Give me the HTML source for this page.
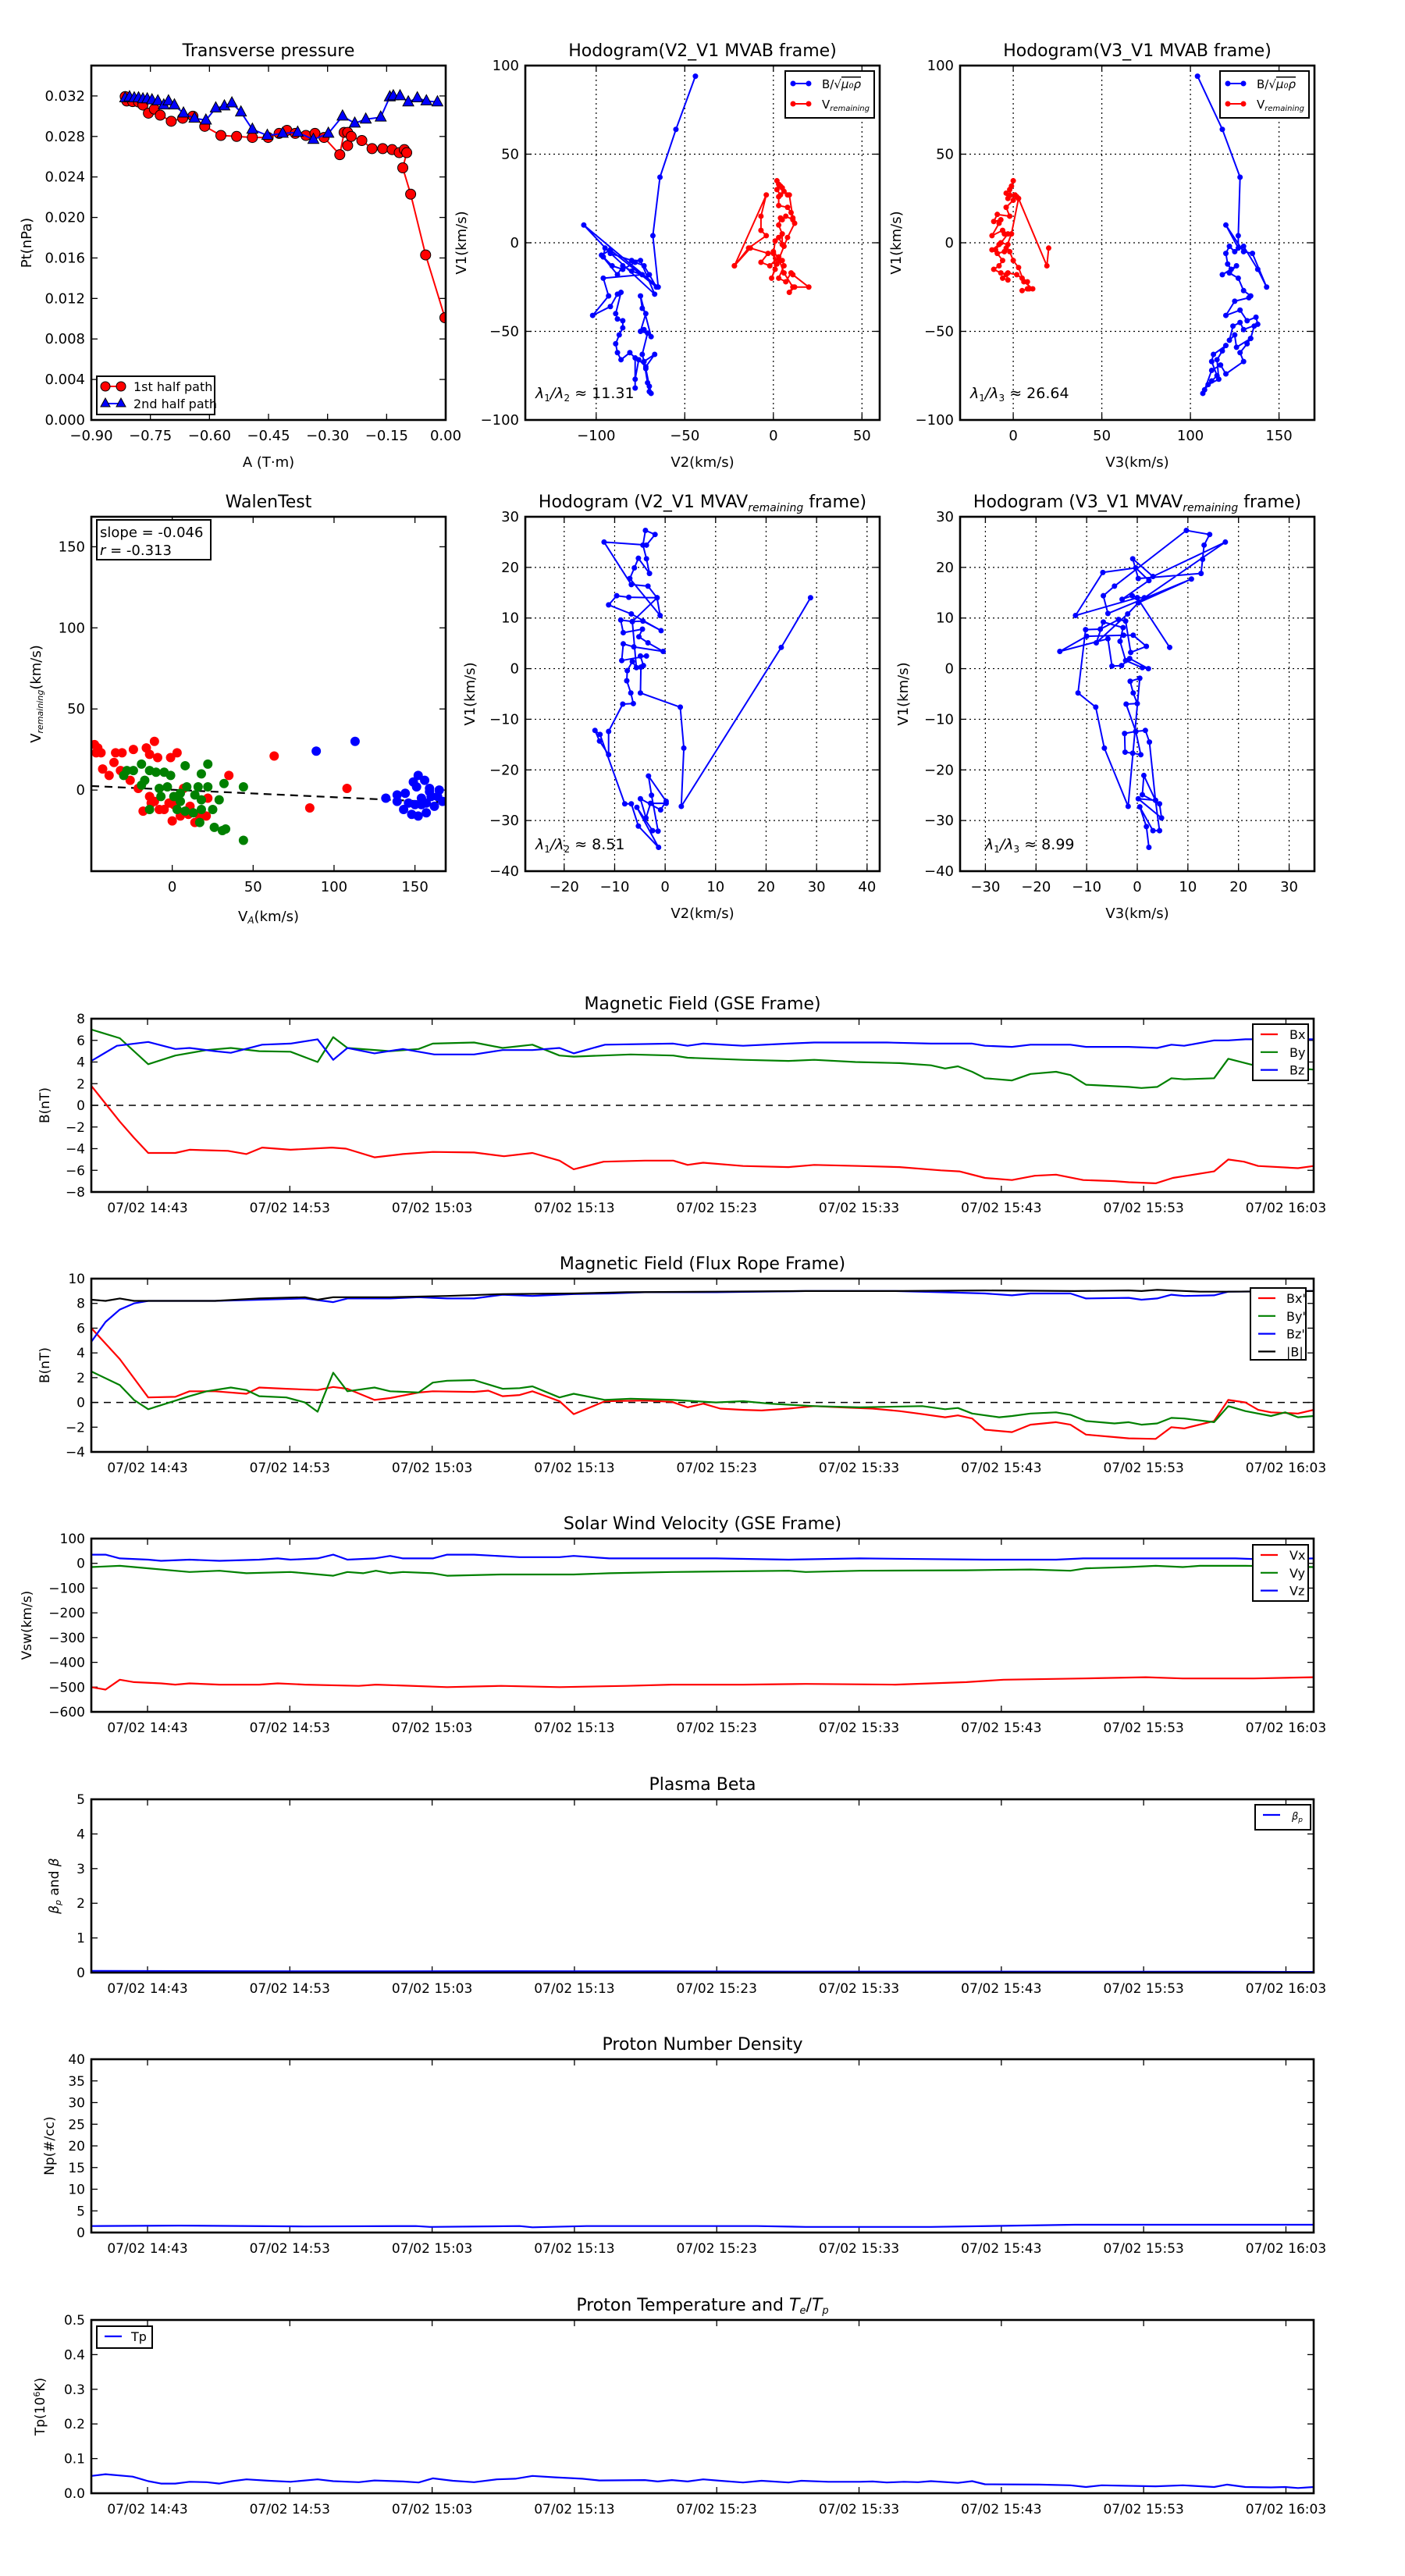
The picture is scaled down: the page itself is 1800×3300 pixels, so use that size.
<!DOCTYPE html>
<html><head><meta charset="utf-8">
<style>
html,body{margin:0;padding:0;background:#fff;}
svg{display:block;}
</style></head>
<body>
<svg id="fig" xmlns="http://www.w3.org/2000/svg" width="1800" height="3300" viewBox="0 0 1800 3300">
<rect x="0" y="0" width="1800" height="3300" fill="#fff"/>
</svg>
<script>
// ---------- DATA ----------
const ptRedA=[-0.814,-0.81,-0.795,-0.78,-0.769,-0.755,-0.74,-0.725,-0.697,-0.668,-0.642,-0.612,-0.571,-0.531,-0.491,-0.451,-0.423,-0.403,-0.382,-0.355,-0.332,-0.309,-0.269,-0.258,-0.249,-0.249,-0.24,-0.213,-0.187,-0.16,-0.136,-0.118,-0.105,-0.099,-0.109,-0.089,-0.051,-0.002];
const ptRedP=[0.03194,0.0315,0.03144,0.0314,0.0311,0.0303,0.0307,0.0301,0.0295,0.0298,0.03,0.029,0.0281,0.028,0.0279,0.0279,0.0283,0.0286,0.0283,0.0281,0.0283,0.0279,0.0262,0.0284,0.0284,0.0271,0.028,0.0276,0.0268,0.0268,0.0267,0.0264,0.0267,0.0264,0.0249,0.0223,0.0163,0.0101];
const ptBlueA=[-0.814,-0.803,-0.791,-0.78,-0.769,-0.758,-0.746,-0.731,-0.716,-0.704,-0.689,-0.666,-0.638,-0.609,-0.584,-0.562,-0.543,-0.52,-0.491,-0.453,-0.414,-0.376,-0.336,-0.298,-0.262,-0.231,-0.203,-0.165,-0.142,-0.133,-0.116,-0.095,-0.072,-0.049,-0.021];
const ptBlueP=[0.0318,0.0319,0.0318,0.0318,0.0317,0.0317,0.0316,0.0315,0.0311,0.0315,0.0311,0.0303,0.0298,0.0296,0.0308,0.031,0.0313,0.0304,0.0287,0.0281,0.0283,0.0284,0.0277,0.0283,0.03,0.0293,0.0297,0.0299,0.0319,0.032,0.032,0.0314,0.0318,0.0315,0.0314];

const h1B=[[-44,94],[-55,64],[-64,37],[-68,4],[-65,-25],[-107,10],[-92,-6],[-80,-10],[-75,-10],[-67,-29],[-95,-3],[-96,-8],[-91,-13],[-85,-15],[-78,-11],[-73,-13],[-70,-18],[-66,-25],[-92,-4],[-97,-7],[-88,-18],[-85,-13],[-80,-16],[-74,-18],[-96,-20],[-93,-30],[-102,-41],[-92,-36],[-88,-29],[-86,-28],[-89,-40],[-88,-43],[-85,-44],[-85,-48],[-87,-52],[-89,-57],[-88,-62],[-86,-66],[-81,-62],[-78,-65],[-78,-82],[-78,-77],[-76,-66],[-72,-70],[-67,-63],[-73,-67],[-71,-79],[-70,-84],[-69,-85],[-70,-81],[-72,-71],[-74,-63],[-71,-51],[-75,-50],[-72,-40],[-74,-37],[-75,-30],[-69,-53],[-73,-49]];
const h1V=[[-22,-13],[-4,27],[-7,15],[-7,7],[-4,4],[-14,-3],[-22,-13],[-13,-3],[-3,-6],[-7,-11],[-2,-13],[3,-8],[5,-10],[6,-13],[3,-20],[7,-22],[10,-17],[11,-18],[20,-25],[12,-25],[9,-28],[11,-25],[6,-17],[3,-9],[-1,-20],[1,-15],[0,-6],[1,1],[3,3],[5,-1],[5,5],[3,10],[4,14],[5,13],[7,15],[11,13],[10,17],[8,20],[3,21],[3,26],[4,27],[2,30],[3,33],[4,32],[2,35],[5,31],[8,27],[6,29],[9,27],[11,14],[12,11],[8,3],[6,-2],[2,-12],[0,-5],[4,-10]];
const h2B=[[104,94],[118,64],[128,37],[127,4],[127,-3],[120,10],[130,-5],[135,-6],[143,-25],[138,-15],[130,-2],[125,-5],[122,-2],[120,-6],[121,-12],[123,-15],[118,-18],[126,-13],[122,-17],[127,-20],[130,-27],[134,-30],[133,-31],[125,-33],[120,-41],[128,-38],[132,-44],[137,-42],[138,-46],[130,-49],[128,-45],[124,-47],[122,-55],[125,-52],[126,-59],[134,-54],[136,-47],[134,-54],[132,-57],[128,-62],[130,-67],[120,-74],[117,-69],[112,-72],[108,-83],[107,-85],[110,-80],[116,-77],[115,-66],[118,-61],[120,-58],[113,-63],[112,-67],[115,-75],[112,-78]];
const h2V=[[-2,27],[-1,32],[0,35],[-2,30],[-4,28],[-3,25],[1,27],[2,26],[0,24],[-4,20],[-2,15],[-9,16],[-11,12],[-7,13],[-8,11],[-12,4],[-6,7],[-5,5],[-3,5],[-10,-4],[-12,-4],[-8,-1],[-7,0],[-3,-1],[-5,-5],[-9,-6],[-6,-10],[-8,-13],[-11,-15],[-7,-17],[-4,-18],[-3,-21],[-6,-20],[-3,-17],[2,-18],[5,-20],[8,-22],[9,-26],[5,-27],[8,-26],[11,-26],[6,-22],[3,-14],[0,-10],[-2,-5],[-4,-3],[-1,5],[3,25],[19,-13],[20,-3]];

const walenRed=[[-48,28],[-46,26],[-44,23],[-47,23],[-35,23],[-31,23],[-24,25],[-16,26],[-11,30],[-14,22],[-9,20],[-1,20],[3,23],[-36,17],[-43,13],[-39,9],[-32,12],[-26,6],[-21,1],[-14,-4],[-11,-7],[-18,-13],[-8,-12],[-5,-12],[0,-19],[1,-9],[5,-16],[10,-15],[14,-20],[21,-16],[22,-5],[7,1],[35,9],[63,21],[85,-11],[108,1],[-2,-8],[11,-10],[17,-16],[-13,-8]];
const walenGreen=[[-28,12],[-19,16],[-24,12],[-14,12],[-10,11],[-5,11],[-1,9],[8,15],[22,16],[18,10],[32,4],[44,2],[16,2],[22,2],[9,2],[-17,6],[-8,1],[-3,2],[1,-4],[5,-7],[3,-12],[8,-13],[14,-3],[18,-6],[29,-6],[25,-12],[18,-12],[13,-14],[17,-20],[26,-23],[31,-25],[33,-24],[44,-31],[-14,-12],[-30,9],[-7,-4],[5,-2],[-19,3]];
const walenBlue=[[89,24],[113,30],[132,-5],[139,-3],[144,-2],[149,5],[152,9],[156,6],[159,1],[165,0],[143,-12],[148,-15],[152,-16],[157,-14],[162,-10],[167,-7],[154,-5],[160,-4],[139,-7],[146,-8],[150,-9],[154,-9],[164,-4],[157,-8],[151,2],[159,-1]];
const walenSlope=-0.046;
const walenIntercept=0.2;

const h3=[[28.8,14.0],[23,4.2],[3.2,-27.2],[3.7,-15.7],[3.0,-7.6],[-4.9,-4.8],[-4.8,0.3],[-4.3,0.6],[-4.9,2.5],[-3.7,2.5],[-8.6,1.6],[-8.3,4.9],[-6.2,4.3],[-0.4,3.4],[-3.4,5.1],[-5.2,6.3],[-4.5,7.8],[-8.3,7.1],[-8.8,9.6],[-6.5,9.3],[-4.4,9.4],[-0.8,7.5],[-6.7,10.8],[-11.2,12.6],[-9.6,14.4],[-7.2,14.1],[-1.6,14],[-1,10.5],[-7,17.8],[-6.1,19.9],[-5.3,21.8],[-3.1,18.8],[-3.7,21.7],[-4.4,24.4],[-3.9,27.3],[-2,26.5],[-3.7,24.4],[-12.1,25],[-6.7,16.6],[-3.4,16.3],[-1.6,14],[-6.5,9.3],[-5.7,0.2],[-6.5,1.4],[-7.5,-0.4],[-7.6,-2.4],[-6.8,-4.8],[-6.3,-6.9],[-8.4,-7.0],[-11.2,-12.4],[-11.2,-17],[-13,-14.3],[-13.9,-12.2],[-12.9,-13],[-8,-26.7],[-6.7,-26.7],[-5.3,-31.1],[-1.3,-35.3],[-5.6,-27.4],[-2.5,-32],[-1.4,-32.1],[-2.7,-25],[-3.3,-21.2],[0.2,-26.2],[-0.9,-27.9],[-4.9,-25.7],[-3.8,-29.5],[-2.9,-26.6],[0.2,-26.6]];
const h4=[[2.3,-35.3],[1.8,-31.2],[0.5,-27.3],[3.1,-32],[4.4,-32],[3.6,-26],[0.2,-25.7],[4.8,-29.5],[4.4,-26.7],[1,-24.9],[1.3,-21.1],[3.6,-26],[2.4,-14.5],[1.6,-12.2],[-0.3,-12.4],[-2.5,-12.8],[-2.4,-16.5],[-0.9,-16.7],[0.7,-17],[-0.3,-12.4],[-2.2,-7],[0,-6.9],[-0.8,-4.8],[-1.4,-2.5],[0.5,-1.9],[-1.8,-27.2],[-6.5,-15.7],[-8.2,-7.6],[-11.7,-4.8],[-10.2,7.7],[-7.3,7.8],[-3.7,9.7],[-2.3,9.4],[-1.3,3.2],[1.8,4.4],[-0.8,6.6],[-2.7,6.6],[-10,6.4],[-15.3,3.4],[-5.8,5.9],[-5,0.5],[-3.1,0.6],[-1.5,2],[2.2,0],[1,0.2],[-2.3,1.6],[-3.4,5.4],[-2.8,8.1],[-6.7,9.2],[-8.1,5.1],[-1.9,10.8],[0.2,13],[10.7,17.7],[-5.8,10.9],[-6.7,14.4],[-4.5,16.3],[9.7,27.3],[14.3,26.5],[13.2,24.4],[12.9,21.6],[12.6,18.8],[0.2,17.8],[-0.9,21.7],[3.1,18.2],[17.4,25],[1.4,14],[0,14],[-1,14.4],[-3,13.7],[2.3,17.4],[-0.3,19.9],[-6.8,19],[-12.2,10.5],[0,14],[6.4,4.2]];

// time series: [minutes since 14:39:03, value]
const tickMinutes=[3.95,13.95,23.95,33.95,43.95,53.95,63.95,73.95,83.95];
const tickLabels=['07/02 14:43','07/02 14:53','07/02 15:03','07/02 15:13','07/02 15:23','07/02 15:33','07/02 15:43','07/02 15:53','07/02 16:03'];
const gseBx=[[0,1.8],[2,-1.5],[3,-3],[4,-4.4],[5.9,-4.4],[6.9,-4.1],[9.6,-4.2],[10.9,-4.5],[12,-3.9],[14,-4.1],[16.9,-3.9],[17.9,-4.0],[19.9,-4.8],[21.9,-4.5],[24,-4.3],[26.9,-4.35],[29,-4.7],[31,-4.4],[32.9,-5.1],[33.9,-5.9],[36,-5.2],[38.9,-5.1],[40.9,-5.1],[41.9,-5.5],[43,-5.3],[45.8,-5.6],[49,-5.7],[50.8,-5.5],[54,-5.6],[56.8,-5.7],[59.7,-6.0],[61,-6.1],[62.8,-6.7],[64.7,-6.9],[66.3,-6.5],[67.8,-6.4],[69.7,-6.9],[71.9,-7.0],[72.9,-7.1],[74.8,-7.2],[76,-6.7],[78.9,-6.1],[79.9,-5.0],[81,-5.2],[82,-5.6],[84.8,-5.8],[85.9,-5.6]];
const gseBy=[[0,7.0],[2,6.2],[4,3.8],[5.9,4.6],[8.1,5.1],[9.8,5.3],[11.8,5.0],[14,4.95],[15.9,4.0],[17,6.3],[18,5.3],[21,5.0],[23,5.2],[24,5.7],[26.9,5.8],[28.9,5.3],[31,5.6],[32.9,4.6],[33.9,4.5],[37.9,4.7],[40.9,4.6],[41.9,4.4],[45.8,4.2],[49,4.1],[50.8,4.2],[53.7,4.0],[56.8,3.9],[59,3.7],[60,3.4],[60.9,3.6],[61.9,3.1],[62.8,2.5],[64.7,2.3],[66,2.9],[67.8,3.1],[68.8,2.8],[69.9,1.9],[72.9,1.7],[73.8,1.6],[74.9,1.7],[75.9,2.5],[76.8,2.4],[78.9,2.5],[79.9,4.3],[81.7,3.7],[85.9,3.3]];
const gseBz=[[0,4.1],[1.8,5.5],[4,5.85],[5.9,5.2],[6.9,5.3],[8.7,5.0],[9.8,4.85],[12,5.6],[14,5.7],[15.9,6.1],[17,4.2],[18,5.3],[19.9,4.8],[21.9,5.2],[24.1,4.7],[26.9,4.7],[28.9,5.1],[31,5.1],[32.9,5.3],[33.9,4.8],[36.1,5.6],[40.9,5.7],[41.9,5.5],[43,5.7],[45.8,5.5],[49,5.7],[50.8,5.8],[55.9,5.8],[59,5.7],[61.9,5.7],[62.8,5.5],[64.7,5.4],[66,5.6],[68.8,5.6],[69.9,5.4],[72.9,5.4],[74.9,5.3],[75.9,5.6],[76.8,5.5],[78.9,6.0],[79.9,6.0],[81.1,6.1],[85.9,6.1]];
const frBx=[[0,6.0],[2,3.5],[4,0.4],[5.9,0.45],[6.9,0.9],[8.7,0.9],[10.9,0.7],[11.8,1.2],[13.7,1.1],[15.9,1.0],[17,1.25],[18,1.1],[19.9,0.2],[21,0.35],[23,0.8],[24,0.9],[26.9,0.85],[27.9,0.95],[28.9,0.5],[30.1,0.6],[31,0.9],[32.9,0.1],[33.9,-0.95],[36.1,0.1],[38.9,0.15],[40.8,0.05],[41.9,-0.4],[43,-0.1],[44.2,-0.5],[45.8,-0.6],[47.1,-0.65],[49,-0.5],[50.8,-0.3],[52.7,-0.4],[54.9,-0.5],[56.8,-0.7],[58.1,-0.9],[60,-1.2],[60.9,-1.05],[61.9,-1.3],[62.8,-2.2],[64.7,-2.4],[66,-1.8],[66.9,-1.7],[67.8,-1.6],[68.8,-1.8],[69.9,-2.6],[71.9,-2.8],[72.9,-2.9],[74.8,-2.95],[75.9,-2.0],[76.8,-2.1],[78.9,-1.5],[79.9,0.2],[81.1,0.0],[82,-0.6],[82.9,-0.8],[84.8,-0.9],[85.9,-0.6]];
const frBy=[[0,2.5],[2,1.4],[3,0.2],[4,-0.55],[6.9,0.5],[8.1,0.9],[9.8,1.2],[10.9,1.0],[11.8,0.5],[13.7,0.4],[15,0.0],[15.9,-0.75],[17,2.4],[18,0.9],[19.9,1.2],[21,0.9],[23,0.8],[24,1.6],[25,1.75],[26.9,1.8],[28.9,1.1],[30.1,1.15],[31,1.3],[32.9,0.4],[33.9,0.7],[36.1,0.2],[37.9,0.3],[40.9,0.2],[43.9,0.0],[45.8,0.1],[47.7,-0.1],[50.8,-0.3],[54,-0.4],[58.4,-0.3],[60,-0.55],[60.9,-0.45],[61.9,-0.9],[63.8,-1.2],[64.7,-1.1],[66,-0.9],[67.8,-0.8],[68.8,-1.0],[69.9,-1.5],[71.9,-1.7],[72.9,-1.6],[73.8,-1.8],[74.9,-1.7],[75.9,-1.25],[76.8,-1.3],[78.9,-1.6],[79.9,-0.3],[81.1,-0.7],[82.9,-1.1],[83.9,-0.8],[84.8,-1.2],[85.9,-1.1]];
const frBz=[[0,4.9],[1,6.5],[2,7.5],[3,8.0],[4,8.2],[8.7,8.2],[11.8,8.3],[15,8.4],[17,8.1],[18,8.4],[21,8.4],[23,8.5],[25,8.4],[26.9,8.4],[28.9,8.7],[31,8.6],[33.9,8.75],[36.4,8.8],[38.9,8.9],[43.9,8.9],[50.2,9.0],[56.5,9.0],[59.7,8.9],[62.8,8.8],[64.7,8.65],[66,8.8],[68.8,8.8],[69.9,8.4],[72.9,8.45],[73.8,8.3],[74.9,8.4],[75.9,8.7],[76.8,8.6],[78.9,8.65],[79.9,8.95],[85.9,9.0]];
const frBt=[[0,8.3],[1,8.2],[2,8.4],[3,8.2],[8.7,8.2],[11.8,8.4],[15,8.5],[15.9,8.3],[17,8.5],[21,8.5],[25,8.6],[28.9,8.75],[33.9,8.8],[37.6,8.9],[43.9,8.95],[50.2,9.0],[56.5,9.0],[62.8,9.05],[69.1,9.0],[72.9,9.05],[73.8,9.0],[74.9,9.1],[77.9,8.95],[79.9,8.95],[85.9,9.0]];
const velVx=[[0,-500],[1,-510],[2,-470],[3,-480],[4.9,-485],[5.9,-490],[6.9,-485],[9,-490],[11.8,-490],[13.1,-485],[15,-490],[18.8,-495],[20,-490],[25,-500],[28.8,-495],[32.9,-500],[37.6,-495],[40.8,-490],[45.8,-490],[50.2,-487],[56.5,-490],[61.5,-480],[64.1,-470],[69.7,-465],[74.1,-460],[76.7,-465],[81.7,-465],[85.9,-460]];
const velVy=[[0,-15],[2,-10],[4,-20],[6.9,-35],[9,-30],[10.9,-40],[14,-35],[15,-40],[17,-50],[18,-35],[19.1,-40],[20,-30],[21,-40],[21.9,-35],[24,-40],[25,-50],[28.8,-45],[33.9,-45],[36.4,-40],[40.8,-35],[49,-30],[50.2,-35],[54,-30],[61.5,-28],[66,-25],[68.8,-30],[69.9,-20],[72.9,-15],[74.8,-10],[76.7,-15],[77.9,-10],[81.1,-10],[85.9,-15]];
const velVz=[[0,35],[1,35],[2,20],[4,15],[4.9,10],[6.9,15],[9,10],[11.8,15],[13.1,20],[14,15],[15.9,20],[17,35],[18,15],[19.9,20],[21,30],[21.9,20],[24,20],[25,35],[26.9,35],[30.1,25],[32.9,25],[33.9,30],[36.4,20],[43.9,20],[49,15],[54,20],[62.8,15],[67.8,15],[69.7,20],[74.8,20],[80.4,20],[82.9,15],[85.9,20]];
const betaP=[[0,0.05],[10,0.04],[20,0.035],[30,0.04],[40,0.035],[50,0.03],[60,0.03],[70,0.025],[80,0.025],[85.9,0.02]];
const densNp=[[0,1.5],[6.2,1.6],[15,1.4],[22.8,1.5],[23.8,1.3],[30.1,1.5],[31,1.2],[34.8,1.5],[46.8,1.5],[50.2,1.3],[59,1.3],[69.1,1.8],[85.9,1.8]];
const tempTp=[[0,0.05],[1,0.055],[2.9,0.048],[4,0.035],[4.9,0.028],[5.9,0.028],[6.9,0.033],[8.1,0.032],[9,0.028],[9.9,0.035],[10.9,0.04],[12.5,0.036],[14,0.033],[15.9,0.04],[17,0.035],[18.8,0.032],[19.9,0.037],[21.9,0.034],[23,0.031],[24,0.043],[25.4,0.036],[26.9,0.032],[28.5,0.04],[29.8,0.042],[31,0.05],[32.6,0.046],[34.5,0.042],[35.7,0.037],[38.9,0.038],[39.8,0.034],[40.8,0.038],[41.9,0.034],[43,0.04],[44.2,0.036],[45.8,0.031],[47.1,0.036],[49,0.031],[49.9,0.036],[51.8,0.033],[54,0.033],[54.9,0.034],[55.9,0.031],[57.1,0.033],[58.1,0.032],[59,0.035],[60.9,0.03],[61.9,0.035],[62.8,0.026],[66.6,0.025],[68.8,0.023],[69.9,0.018],[71,0.023],[74.8,0.02],[76.7,0.023],[78.9,0.018],[79.8,0.025],[81.1,0.018],[82.9,0.017],[83.9,0.018],[84.8,0.015],[85.9,0.018]];

// ---------- DRAWING ----------
const NS='http://www.w3.org/2000/svg';
const svg=document.getElementById('fig');
const FONT='"DejaVu Sans","Liberation Sans",sans-serif';
function mk(tag,attrs,parent){const e=document.createElementNS(NS,tag);for(const k in attrs)e.setAttribute(k,attrs[k]);(parent||svg).appendChild(e);return e;}
function txt(parent,s,x,y,size,anchor,extra){const e=mk('text',Object.assign({x:x,y:y,'font-family':FONT,'font-size':size,'text-anchor':anchor||'middle',fill:'#000'},extra||{}),parent);if(s!==null)e.textContent=s;return e;}
function tspan(parent,s,attrs){const e=mk('tspan',attrs||{},parent);e.textContent=s;return e;}
function fmtNum(v,d){const s=v.toFixed(d);return s.replace('-','\u2212');}

function makeAxes(name,L,T,W,H,xmin,xmax,ymin,ymax){
  const g=mk('g',{});
  
  
  return {g:g,L:L,T:T,W:W,H:H,sx:v=>L+(v-xmin)/(xmax-xmin)*W,sy:v=>T+H-(v-ymin)/(ymax-ymin)*H};
}
function drawGridTicks(ax,xt,xl,yt,yl,grid,tsize){
  const g=mk('g',{},ax.g);
  
  
  xt.forEach((v,i)=>{const x=ax.sx(v);
    if(grid){mk('line',{x1:x,y1:ax.T,x2:x,y2:ax.T+ax.H,stroke:'#000','stroke-width':1.2,'stroke-dasharray':'2,4'},g);}
    mk('line',{x1:x,y1:ax.T+ax.H,x2:x,y2:ax.T+ax.H-8,stroke:'#000','stroke-width':1.3},g);
    mk('line',{x1:x,y1:ax.T,x2:x,y2:ax.T+8,stroke:'#000','stroke-width':1.3},g);
    const t=txt(g,xl[i],x,ax.T+ax.H+26,tsize||18,'middle');
    
    
  });
  yt.forEach((v,i)=>{const y=ax.sy(v);
    if(grid){mk('line',{x1:ax.L,y1:y,x2:ax.L+ax.W,y2:y,stroke:'#000','stroke-width':1.2,'stroke-dasharray':'2,4'},g);}
    mk('line',{x1:ax.L,y1:y,x2:ax.L+8,y2:y,stroke:'#000','stroke-width':1.3},g);
    mk('line',{x1:ax.L+ax.W,y1:y,x2:ax.L+ax.W-8,y2:y,stroke:'#000','stroke-width':1.3},g);
    const t=txt(g,yl[i],ax.L-8,y+6,tsize||18,'end');
    
    
  });
}
function frame(ax){const r=mk('rect',{x:ax.L,y:ax.T,width:ax.W,height:ax.H,fill:'none',stroke:'#000','stroke-width':2.6},ax.g);
  
  }
function clip(ax,id){const cp=mk('clipPath',{id:id},ax.g);mk('rect',{x:ax.L,y:ax.T,width:ax.W,height:ax.H},cp);const g=mk('g',{'clip-path':'url(#'+id+')'},ax.g);return g;}
function polyline(g,ax,pts,color,w){return mk('polyline',{points:pts.map(p=>ax.sx(p[0]).toFixed(1)+','+ax.sy(p[1]).toFixed(1)).join(' '),fill:'none',stroke:color,'stroke-width':w||2,'stroke-linejoin':'round'},g);}
function title(ax,s){const t=txt(ax.g,s,ax.L+ax.W/2,ax.T-12,22,'middle');return t;}
function ylabel(ax,s,x){const y=ax.T+ax.H/2;const t=txt(ax.g,s,x,y,18,'middle',{transform:'rotate(-90 '+x+' '+y+')'});return t;}
function xlabel(ax,s){const t=txt(ax.g,s,ax.L+ax.W/2,ax.T+ax.H+60,18,'middle');return t;}
function range(a,b,s){const r=[];for(let v=a;v<=b+1e-9;v+=s)r.push(+v.toFixed(6));return r;}

// ---- Panel 1: transverse pressure
(function(){
  const ax=makeAxes('transverse-pressure-chart',117,84,454,454,-0.9,0,0,0.035);
  const xt=range(-0.9,0,0.15), yt=range(0,0.032,0.004);
  drawGridTicks(ax,xt,xt.map(v=>fmtNum(v,2)),yt,yt.map(v=>v.toFixed(3)),false,18);
  const g=clip(ax,'cp1');
  const pr=ptRedA.map((a,i)=>[a,ptRedP[i]]), pb=ptBlueA.map((a,i)=>[a,ptBlueP[i]]);
  const l1=polyline(g,ax,pr,'#f00',2);
  
  
  pr.forEach(p=>{const c=mk('circle',{cx:ax.sx(p[0]),cy:ax.sy(p[1]),r:6.5,fill:'#f00',stroke:'#000','stroke-width':1},g);
    
    });
  const l2=polyline(g,ax,pb,'#00f',2);
  
  
  pb.forEach(p=>{const x=ax.sx(p[0]),y=ax.sy(p[1]);const t=mk('polygon',{points:`${x},${y-8} ${x-7},${y+5} ${x+7},${y+5}`,fill:'#00f',stroke:'#000','stroke-width':1},g);
    
    });
  frame(ax);
  title(ax,'Transverse pressure'); ylabel(ax,'Pt(nPa)',40); xlabel(ax,'A (T\u00b7m)');
  const lg=mk('g',{},ax.g);
  
  
  mk('rect',{x:124,y:482,width:151,height:49,fill:'#fff',stroke:'#000','stroke-width':2},lg);
  mk('line',{x1:135,y1:495,x2:155,y2:495,stroke:'#f00','stroke-width':2},lg);
  mk('circle',{cx:135,cy:495,r:6,fill:'#f00',stroke:'#000'},lg);mk('circle',{cx:155,cy:495,r:6,fill:'#f00',stroke:'#000'},lg);
  txt(lg,'1st half path',171,501,16,'start');
  mk('line',{x1:135,y1:517,x2:155,y2:517,stroke:'#00f','stroke-width':2},lg);
  [135,155].forEach(x=>mk('polygon',{points:`${x},${510} ${x-6},${521} ${x+6},${521}`,fill:'#00f',stroke:'#000'},lg));
  txt(lg,'2nd half path',171,523,16,'start');
})();

function hodoLegend(ax,x,y){
  const lg=mk('g',{},ax.g);
  
  
  mk('rect',{x:x,y:y,width:114,height:60,fill:'#fff',stroke:'#000','stroke-width':2},lg);
  mk('line',{x1:x+10,y1:y+16,x2:x+30,y2:y+16,stroke:'#00f','stroke-width':2},lg);
  mk('circle',{cx:x+10,cy:y+16,r:3.5,fill:'#00f'},lg);mk('circle',{cx:x+30,cy:y+16,r:3.5,fill:'#00f'},lg);
  const t1=txt(lg,null,x+47,y+22,15,'start');tspan(t1,'B/\u221a');tspan(t1,'\u03bc\u2080\u03c1',{'font-style':'italic','text-decoration':'overline'});
  mk('line',{x1:x+10,y1:y+42,x2:x+30,y2:y+42,stroke:'#f00','stroke-width':2},lg);
  mk('circle',{cx:x+10,cy:y+42,r:3.5,fill:'#f00'},lg);mk('circle',{cx:x+30,cy:y+42,r:3.5,fill:'#f00'},lg);
  const t2=txt(lg,null,x+47,y+48,15,'start');tspan(t2,'V');tspan(t2,'remaining',{'font-size':10,'font-style':'italic',dy:3});
}
function hodoSeries(g,ax,pts,color,name,r){
  const l=polyline(g,ax,pts,color,2);
  
  
  pts.forEach(p=>{const c=mk('circle',{cx:ax.sx(p[0]),cy:ax.sy(p[1]),r:r||3.5,fill:color},g);
    
    });
}
function ratioText(ax,a,b,val){
  const t=txt(ax.g,null,ax.L+13,ax.T+ax.H-28,19,'start');
  
  
  tspan(t,'\u03bb',{'font-style':'italic'});tspan(t,a,{'font-size':12,dy:4});tspan(t,'/\u03bb',{'font-style':'italic',dy:-4});tspan(t,b,{'font-size':12,dy:4});tspan(t,' \u2248 '+val,{dy:-4});
}

// ---- Panel 2
(function(){
  const ax=makeAxes('hodogram-v2-v1-mvab',673,84,454,454,-140,60,-100,100);
  const xt=[-100,-50,0,50], yt=[-100,-50,0,50,100];
  drawGridTicks(ax,xt,xt.map(v=>fmtNum(v,0)),yt,yt.map(v=>fmtNum(v,0)),true,18);
  const g=clip(ax,'cp2');
  hodoSeries(g,ax,h1B,'#00f','b-alfven');
  hodoSeries(g,ax,h1V,'#f00','v-remaining');
  frame(ax);
  title(ax,'Hodogram(V2_V1 MVAB frame)'); ylabel(ax,'V1(km/s)',597); xlabel(ax,'V2(km/s)');
  hodoLegend(ax,1006,91); ratioText(ax,'1','2','11.31');
})();
// ---- Panel 3
(function(){
  const ax=makeAxes('hodogram-v3-v1-mvab',1230,84,454,454,-30,170,-100,100);
  const xt=[0,50,100,150], yt=[-100,-50,0,50,100];
  drawGridTicks(ax,xt,xt.map(v=>fmtNum(v,0)),yt,yt.map(v=>fmtNum(v,0)),true,18);
  const g=clip(ax,'cp3');
  hodoSeries(g,ax,h2B,'#00f','b-alfven');
  hodoSeries(g,ax,h2V,'#f00','v-remaining');
  frame(ax);
  title(ax,'Hodogram(V3_V1 MVAB frame)'); ylabel(ax,'V1(km/s)',1154); xlabel(ax,'V3(km/s)');
  hodoLegend(ax,1563,91); ratioText(ax,'1','3','26.64');
})();
// ---- Walen
(function(){
  const ax=makeAxes('walen-test-chart',117,662,454,454,-50,169,-50,168.5);
  const xt=[0,50,100,150], yt=[0,50,100,150];
  drawGridTicks(ax,xt,xt.map(v=>fmtNum(v,0)),yt,yt.map(v=>fmtNum(v,0)),false,18);
  const g=clip(ax,'cp4');
  const fit=mk('line',{x1:ax.sx(-50),y1:ax.sy(walenSlope*-50+walenIntercept),x2:ax.sx(169),y2:ax.sy(walenSlope*169+walenIntercept),stroke:'#000','stroke-width':2.2,'stroke-dasharray':'10,7'},g);
  
  
  [[walenRed,'#f00','walen-x-point'],[walenGreen,'#008000','walen-y-point'],[walenBlue,'#00f','walen-z-point']].forEach(s=>{
    s[0].forEach(p=>{const c=mk('circle',{cx:ax.sx(p[0]),cy:ax.sy(p[1]),r:6,fill:s[1]},g);
      
      });
  });
  frame(ax);
  title(ax,'WalenTest');
  const yl=txt(ax.g,null,52,ax.T+ax.H/2,18,'middle',{transform:'rotate(-90 52 '+(ax.T+ax.H/2)+')'});
  
  
  tspan(yl,'V');tspan(yl,'remaining',{'font-size':11,'font-style':'italic',dy:3});tspan(yl,'(km/s)',{dy:-3});
  const xl=txt(ax.g,null,ax.L+ax.W/2,1174+6,18,'middle');
  
  
  tspan(xl,'V');tspan(xl,'A',{'font-size':12,'font-style':'italic',dy:3});tspan(xl,'(km/s)',{dy:-3});
  const bx=mk('g',{},ax.g);
  
  
  mk('rect',{x:124,y:666,width:146,height:51,fill:'#fff',stroke:'#000','stroke-width':2},bx);
  txt(bx,'slope = -0.046',128,688,18,'start');
  const r=txt(bx,null,128,711,18,'start');tspan(r,'r',{'font-style':'italic'});tspan(r,' = -0.313');
})();
function mvavTitle(ax,s){const t=txt(ax.g,null,ax.L+ax.W/2,ax.T-12,22,'middle');
  tspan(t,s);tspan(t,'remaining',{'font-size':14,'font-style':'italic',dy:5});tspan(t,' frame)',{dy:-5});}
// ---- Panel 5
(function(){
  const ax=makeAxes('hodogram-v2-v1-mvav',673,662,454,454,-27.7,42.5,-40,30);
  const xt=range(-20,40,10), yt=range(-40,30,10);
  drawGridTicks(ax,xt,xt.map(v=>fmtNum(v,0)),yt,yt.map(v=>fmtNum(v,0)),true,18);
  const g=clip(ax,'cp5');
  hodoSeries(g,ax,h3,'#00f','v-remaining-mvav',3.5);
  frame(ax);
  mvavTitle(ax,'Hodogram (V2_V1 MVAV'); ylabel(ax,'V1(km/s)',608); xlabel(ax,'V2(km/s)');
  ratioText(ax,'1','2','8.51');
})();
// ---- Panel 6
(function(){
  const ax=makeAxes('hodogram-v3-v1-mvav',1230,662,454,454,-35,35,-40,30);
  const xt=range(-30,30,10), yt=range(-40,30,10);
  drawGridTicks(ax,xt,xt.map(v=>fmtNum(v,0)),yt,yt.map(v=>fmtNum(v,0)),true,18);
  const g=clip(ax,'cp6');
  hodoSeries(g,ax,h4,'#00f','v-remaining-mvav',3.5);
  frame(ax);
  mvavTitle(ax,'Hodogram (V3_V1 MVAV'); ylabel(ax,'V1(km/s)',1163); xlabel(ax,'V3(km/s)');
  const t=txt(ax.g,null,ax.L+32,ax.T+ax.H-28,19,'start');
  
  
  tspan(t,'\u03bb',{'font-style':'italic'});tspan(t,'1',{'font-size':12,dy:4});tspan(t,'/\u03bb',{'font-style':'italic',dy:-4});tspan(t,'3',{'font-size':12,dy:4});tspan(t,' \u2248 8.99',{dy:-4});
})();

// ---- Time series panels
function timePanel(cfg){
  const ax=makeAxes(cfg.name,117,cfg.T,1566,222,0,85.9,cfg.ymin,cfg.ymax);
  drawGridTicks(ax,tickMinutes,tickLabels,cfg.yt,cfg.yl,false,17);
  const g=clip(ax,'cp-'+cfg.name);
  if(cfg.zero){const z=mk('line',{x1:ax.L,y1:ax.sy(0),x2:ax.L+ax.W,y2:ax.sy(0),stroke:'#000','stroke-width':1.5,'stroke-dasharray':'9,7'},g);
    
    }
  cfg.series.forEach(s=>{const l=polyline(g,ax,s[0],s[1],2.2);
    
    });
  frame(ax);
  const tt=txt(ax.g,null,ax.L+ax.W/2,ax.T-12,22,'middle');
  
  
  cfg.title(tt);
  const yx=cfg.ylx, yy=ax.T+ax.H/2;
  const yl=txt(ax.g,null,yx,yy,17,'middle',{transform:'rotate(-90 '+yx+' '+yy+')'});
  
  
  cfg.ylabel(yl);
  const lg=mk('g',{},ax.g);
  
  
  const L=cfg.legend;
  mk('rect',{x:L.x,y:L.y,width:71,height:L.h,fill:'#fff',stroke:'#000','stroke-width':2},lg);
  cfg.series.forEach((s,i)=>{const yy2=L.y+13+i*22.8;
    mk('line',{x1:L.x+10,y1:yy2,x2:L.x+32,y2:yy2,stroke:s[1],'stroke-width':2.2},lg);
    const t=txt(lg,null,L.x+(L.lx||47),yy2+6,16,'start');
    s[2](t);
  });
}
const plain=s=>t=>{t.textContent=s;};
timePanel({name:'magnetic-field-gse-chart',T:1305,ymin:-8,ymax:8,yt:range(-8,8,2),yl:range(-8,8,2).map(v=>fmtNum(v,0)),zero:true,
  title:plain('Magnetic Field (GSE Frame)'),ylx:63,ylabel:plain('B(nT)'),
  series:[[gseBx,'#f00',plain('Bx'),'bx-line'],[gseBy,'#008000',plain('By'),'by-line'],[gseBz,'#00f',plain('Bz'),'bz-line']],
  legend:{x:1605,y:1312,h:72}});
timePanel({name:'magnetic-field-flux-rope-chart',T:1638,ymin:-4,ymax:10,yt:range(-4,10,2),yl:range(-4,10,2).map(v=>fmtNum(v,0)),zero:true,
  title:plain('Magnetic Field (Flux Rope Frame)'),ylx:63,ylabel:plain('B(nT)'),
  series:[[frBx,'#f00',plain("Bx'"),'bx-prime-line'],[frBy,'#008000',plain("By'"),'by-prime-line'],[frBz,'#00f',plain("Bz'"),'bz-prime-line'],[frBt,'#000',plain('|B|'),'b-magnitude-line']],
  legend:{x:1602,y:1650,h:92,lx:46}});
timePanel({name:'solar-wind-velocity-chart',T:1971,ymin:-600,ymax:100,yt:range(-600,100,100),yl:range(-600,100,100).map(v=>fmtNum(v,0)),zero:false,
  title:plain('Solar Wind Velocity (GSE Frame)'),ylx:40,ylabel:plain('Vsw(km/s)'),
  series:[[velVx,'#f00',plain('Vx'),'vx-line'],[velVy,'#008000',plain('Vy'),'vy-line'],[velVz,'#00f',plain('Vz'),'vz-line']],
  legend:{x:1605,y:1979,h:72}});
timePanel({name:'plasma-beta-chart',T:2305,ymin:0,ymax:5,yt:range(0,5,1),yl:range(0,5,1).map(v=>fmtNum(v,0)),zero:false,
  title:plain('Plasma Beta'),ylx:75,ylabel:t=>{tspan(t,'\u03b2',{'font-style':'italic'});tspan(t,'p',{'font-size':11,'font-style':'italic',dy:3});tspan(t,' and ',{dy:-3});tspan(t,'\u03b2',{'font-style':'italic'});},
  series:[[betaP,'#00f',t=>{tspan(t,'\u03b2',{'font-style':'italic','font-size':13});tspan(t,'p',{'font-size':9,'font-style':'italic',dy:3});},'beta-p-line']],
  legend:{x:1608,y:2312,h:32}});
timePanel({name:'proton-density-chart',T:2638,ymin:0,ymax:40,yt:range(0,40,5),yl:range(0,40,5).map(v=>fmtNum(v,0)),zero:false,
  title:plain('Proton Number Density'),ylx:69,ylabel:plain('Np(#/cc)'),
  series:[[densNp,'#00f',plain('Np'),'np-line']],
  legend:{x:-500,y:-500,h:0}});
timePanel({name:'proton-temperature-chart',T:2972,ymin:0,ymax:0.5,yt:range(0,0.5,0.1),yl:range(0,0.5,0.1).map(v=>v.toFixed(1)),zero:false,
  title:t=>{tspan(t,'Proton Temperature and ');tspan(t,'T',{'font-style':'italic'});tspan(t,'e',{'font-size':13,'font-style':'italic',dy:4});tspan(t,'/',{dy:-4});tspan(t,'T',{'font-style':'italic'});tspan(t,'p',{'font-size':13,'font-style':'italic',dy:4});},
  ylx:57,ylabel:t=>{tspan(t,'Tp(10');tspan(t,'6',{'font-size':11,dy:-6});tspan(t,'K)',{dy:6});},
  series:[[tempTp,'#00f',plain('Tp'),'tp-line']],
  legend:{x:124,y:2980,h:28,lx:44}});
</script>
</body></html>
